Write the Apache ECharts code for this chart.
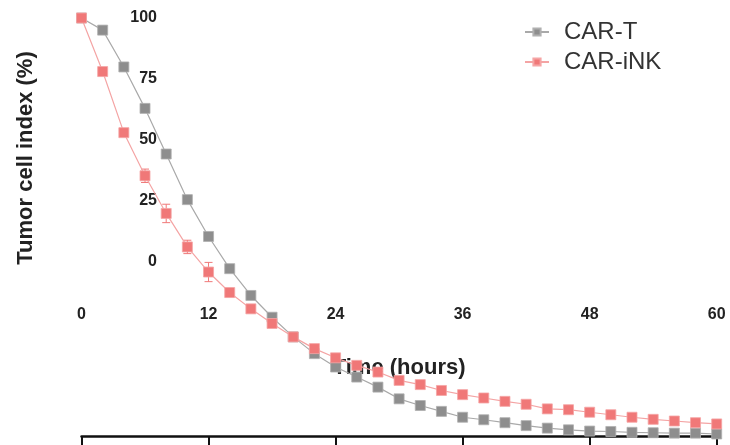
<!DOCTYPE html>
<html>
<head>
<meta charset="utf-8">
<script src="https://cdn.jsdelivr.net/npm/echarts@6/dist/echarts.min.js"></script>
<style>
html,body{margin:0;padding:0;background:#fff;}
#chart{width:730px;height:445px;}
</style>
</head>
<body>
<div id="chart"></div>
<script>
const hours = [0,2,4,6,8,10,12,14,16,18,20,22,24,26,28,30,32,34,36,38,40,42,44,46,48,50,52,54,56,58,60];
const carT = [100,97.1,88.3,78.4,67.5,56.6,47.8,40.1,33.7,28.5,23.8,19.8,16.6,14.2,11.8,9.0,7.4,6.0,4.6,4.0,3.3,2.6,2.0,1.6,1.3,1.2,1.0,0.9,0.8,0.8,0.6];
const carTErr = [0,1.0,0.8,0.8,0.7,0.6,0.6,0.6,0.6,0.6,0.5,0.5,0.5,0.5,0.5,0.5,0.5,0.5,0.5,0.5,0.5,0.5,0.5,0.5,0.5,0.5,0.5,0.5,0.5,0.5,0.5];
const carINK = [100,87.2,72.6,62.3,53.3,45.3,39.3,34.4,30.5,27.0,23.8,21.0,18.8,17.0,15.4,13.4,12.4,11.0,10.0,9.2,8.4,7.7,6.6,6.4,5.8,5.2,4.6,4.1,3.7,3.3,3.0];
const carINKErr = [0,0.6,0.8,1.6,2.2,1.6,2.3,1.0,0.6,0.6,0.5,0.5,0.5,0.5,0.5,0.5,0.5,0.6,0.5,0.5,0.5,0.5,0.5,0.5,0.5,0.5,0.5,0.5,0.5,0.5,0.6];
const xTicks = [0,12,24,36,48,60];
const yTicks = [0,25,50,75,100];
const seriesNames = ['CAR-T','CAR-iNK'];
const xTitle = 'Time (hours)';
const yTitle = 'Tumor cell index (%)';

const grayMarker = '#8e8e8e', grayLine = '#a9a9a9';
const redMarker = '#f07878', redLine = '#f4a4a4';
const FONT = 'Liberation Sans, Arial, sans-serif';

function errSeries(vals, errs, color) {
  return {
    type: 'custom', xAxisIndex: 0, yAxisIndex: 0, silent: true, z: 1,
    data: hours.map((h, i) => [h, vals[i], errs[i]]),
    renderItem: function (params, api) {
      const x = api.value(0), y = api.value(1), e = api.value(2);
      if (!e) return null;
      const lo = api.coord([x, y - e]);
      const hi = api.coord([x, y + e]);
      const w = 4;
      const st = { stroke: color, lineWidth: 1 };
      return { type: 'group', children: [
        { type: 'line', shape: { x1: lo[0], y1: lo[1], x2: hi[0], y2: hi[1] }, style: st },
        { type: 'line', shape: { x1: lo[0]-w, y1: lo[1], x2: lo[0]+w, y2: lo[1] }, style: st },
        { type: 'line', shape: { x1: hi[0]-w, y1: hi[1], x2: hi[0]+w, y2: hi[1] }, style: st }
      ]};
    }
  };
}

const chart = echarts.init(document.getElementById('chart'), null, { renderer: 'canvas' });
chart.setOption({
  animation: false,
  textStyle: { fontFamily: FONT },
  legend: {
    orient: 'vertical', left: 524, top: 20, itemGap: 6, padding: 0,
    itemWidth: 24, itemHeight: 9,
    textStyle: { fontSize: 24, color: '#333', fontFamily: FONT, padding: [0,0,0,10], lineHeight: 24 },
    data: seriesNames
  },
  grid: [
    { left: 81.5, right: 13.3, top: 18, bottom: 8.5 },
    { left: 81.5, right: 13.3, top: 0, height: 300 },
    { left: 165, width: 10, top: 18, height: 244 }
  ],
  xAxis: [
    { gridIndex: 0, type: 'value', min: 0, max: 60, interval: 12,
      axisLine: { show: true, lineStyle: { color: '#111', width: 2.5 } },
      axisTick: { show: true, inside: false, length: 9, lineStyle: { color: '#111', width: 2 } },
      axisLabel: { show: false }, splitLine: { show: false } },
    { gridIndex: 1, type: 'value', min: 0, max: 60, interval: 12,
      axisLine: { show: false }, axisTick: { show: false }, splitLine: { show: false },
      axisLabel: { show: true, margin: 7, fontSize: 16, fontWeight: 'bold', color: '#222', fontFamily: FONT,
        customValues: xTicks },
      name: xTitle, nameLocation: 'middle', nameGap: 57,
      nameTextStyle: { fontSize: 22, fontWeight: 'bold', color: '#222', fontFamily: FONT } },
    { gridIndex: 2, type: 'value', min: 0, max: 1, show: false }
  ],
  yAxis: [
    { gridIndex: 0, type: 'value', min: 0, max: 100, show: false },
    { gridIndex: 1, type: 'value', min: 0, max: 1, show: false },
    { gridIndex: 2, type: 'value', min: 0, max: 100, interval: 25,
      axisLine: { show: false }, axisTick: { show: false }, splitLine: { show: false },
      axisLabel: { show: true, margin: 8, fontSize: 16, fontWeight: 'bold', color: '#222', fontFamily: FONT,
        customValues: yTicks } }
  ],
  graphic: [
    { type: 'text', x: 26, y: 158, rotation: Math.PI / 2,
      style: { text: yTitle, fontSize: 22, fontWeight: 'bold', fill: '#222', fontFamily: FONT,
        align: 'center', verticalAlign: 'middle' } }
  ],
  series: [
    errSeries(carT, carTErr, grayMarker),
    errSeries(carINK, carINKErr, redMarker),
    { name: seriesNames[0], type: 'line', xAxisIndex: 0, yAxisIndex: 0, z: 2,
      data: hours.map((h, i) => [h, carT[i]]),
      symbol: 'rect', symbolSize: 10, showAllSymbol: true,
      lineStyle: { color: grayLine, width: 1.2 },
      itemStyle: { color: grayMarker, borderColor: '#b0b0b0', borderWidth: 0.8 } },
    { name: seriesNames[1], type: 'line', xAxisIndex: 0, yAxisIndex: 0, z: 3,
      data: hours.map((h, i) => [h, carINK[i]]),
      symbol: 'rect', symbolSize: 10, showAllSymbol: true,
      lineStyle: { color: redLine, width: 1.2 },
      itemStyle: { color: redMarker, borderColor: '#f5a5a5', borderWidth: 0.8 } }
  ]
});
</script>
</body>
</html>
